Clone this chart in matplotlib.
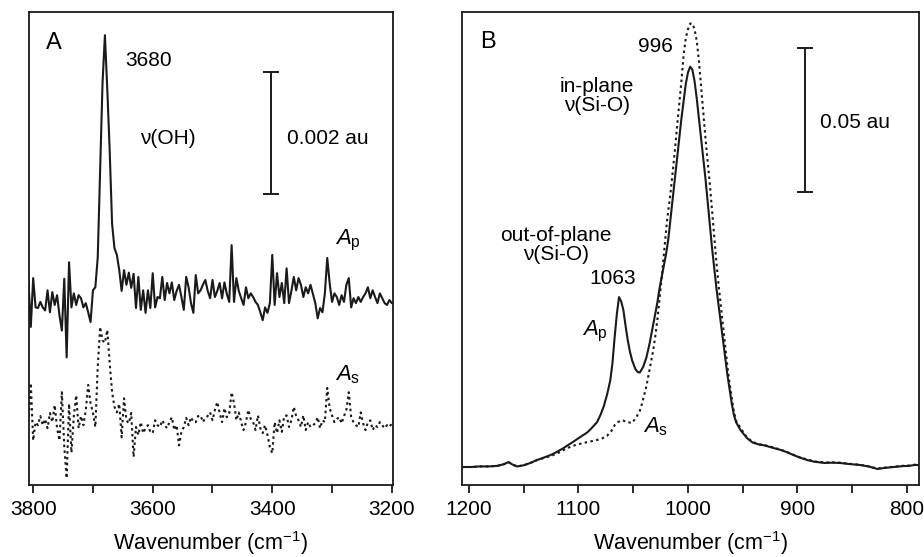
import numpy as np
import matplotlib
matplotlib.use('Agg')
import matplotlib.pyplot as plt

plt.rcParams['font.family'] = 'Liberation Sans'
plt.rcParams['mathtext.fontset'] = 'custom'
plt.rcParams['mathtext.rm'] = 'Liberation Sans'
plt.rcParams['mathtext.it'] = 'Liberation Sans:italic'
plt.rcParams['font.size'] = 15

# ---- Panel A: nu(OH) region, absorbance in 10^-3 au, 4 cm-1 steps from 3808 down to 3196
wn_a = np.arange(3808, 3195, -4)
ap_a = [0.38, -0.39, 0.41, -0.07, -0.08, 0.02, -0.07, -0.12,   # 3808
        0.21, -0.15, 0.18, -0.03, 0.13, -0.2, -0.45, 0.4,      # 3776
        -0.89, 0.67, -0.07, 0.16, -0.03, 0.13, 0.08, -0.07,    # 3744
        0.0, -0.15, -0.31, 0.21, 0.26, 0.75, 2.2, 3.6,         # 3712
        4.39, 3.5, 2.5, 1.3, 0.9, 0.79, 0.54, 0.2,             # 3680
        0.54, 0.3, 0.5, 0.25, 0.48, -0.08, 0.43, -0.11,        # 3648
        0.21, -0.16, 0.21, -0.08, 0.49, -0.07, 0.1, 0.08,      # 3616
        0.43, 0.05, 0.33, 0.16, 0.34, 0.05, 0.2, 0.3,          # 3584
        0.1, -0.11, 0.43, 0.26, 0.0, -0.16, 0.46, 0.16,        # 3552
        0.21, 0.3, 0.38, 0.2, 0.08, 0.38, 0.1, 0.2,            # 3520
        0.33, 0.08, 0.34, 0.15, 0.02, 0.95, 0.02, 0.41,        # 3488
        0.2, 0.08, -0.03, 0.26, 0.08, 0.16, 0.1, 0.02,         # 3456
        -0.03, -0.15, -0.28, -0.07, -0.16, 0.0, 0.79, -0.03,   # 3424
        0.49, 0.1, 0.33, 0.0, 0.57, 0.0, 0.2, 0.43,            # 3392
        0.21, 0.41, 0.3, 0.1, 0.26, 0.16, 0.3, 0.15,           # 3360
        0.0, -0.25, -0.08, -0.15, 0.16, 0.74, 0.33, 0.02,      # 3328
        0.16, 0.1, -0.03, 0.13, 0.02, 0.3, 0.41, -0.07,        # 3296
        0.08, 0.0, 0.1, 0.02, 0.1, 0.16, 0.26, 0.08,           # 3264
        0.21, 0.1, 0.0, 0.16, 0.08, 0.0, -0.03, 0.05,          # 3232
        0.0, 0.0]                                              # 3200
as_a = [0.0, 0.64, -0.3, 0.0, -0.05, 0.1, -0.05, 0.05,         # 3808
        -0.1, 0.15, 0.0, 0.28, -0.1, -0.3, 0.49, -0.4,         # 3776
        -0.92, 0.3, -0.5, 0.1, 0.44, -0.1, 0.1, -0.05,         # 3744
        0.2, 0.61, 0.31, 0.15, -0.08, 0.9, 1.56, 1.34,         # 3712
        1.3, 1.51, 0.97, 0.49, 0.25, 0.16, 0.3, -0.25,         # 3680
        0.39, 0.03, -0.02, 0.15, -0.57, -0.08, -0.21, 0.0,     # 3648
        -0.18, -0.1, -0.05, -0.16, -0.18, 0.03, -0.05, -0.08,  # 3616
        0.03, -0.05, -0.1, 0.0, 0.08, -0.13, -0.05, -0.38,     # 3584
        -0.16, -0.08, 0.07, -0.05, 0.08, 0.0, 0.0, 0.1,        # 3552
        0.11, 0.0, 0.07, 0.1, 0.16, 0.03, 0.2, 0.33,           # 3520
        0.15, 0.0, 0.23, 0.08, 0.15, 0.49, 0.31, 0.03,         # 3488
        0.16, 0.0, -0.13, 0.0, 0.2, 0.05, 0.0, -0.13,          # 3456
        0.11, -0.1, -0.18, -0.05, -0.21, -0.41, -0.51, 0.0,    # 3424
        -0.18, 0.03, -0.16, 0.1, 0.11, -0.08, 0.03, 0.25,      # 3392
        0.1, 0.03, -0.08, 0.11, -0.13, 0.0, -0.08, -0.05,      # 3360
        -0.02, 0.08, -0.1, 0.03, 0.0, 0.56, 0.23, 0.11,        # 3328
        0.0, 0.05, 0.08, -0.02, 0.1, 0.2, 0.49, 0.08,          # 3296
        0.0, -0.05, -0.08, 0.16, -0.02, -0.13, 0.0, 0.03,      # 3264
        -0.13, -0.05, -0.08, 0.0, -0.05, -0.1, -0.05, -0.08,   # 3232
        -0.02, -0.05]                                          # 3200
as_a_offset = -1.95

# ---- Panel B: nu(Si-O) region, absorbance in au
wn_bp = [1206, 1198, 1190, 1182, 1174, 1168, 1164, 1160, 1156, 1150, 1144, 1138,
         1130, 1124, 1120, 1114, 1110, 1105, 1100, 1096, 1092, 1088, 1083, 1080,
         1077, 1074, 1071, 1069, 1067, 1065, 1063, 1061, 1059, 1057, 1055, 1053,
         1051, 1048, 1046, 1044, 1041, 1038, 1035, 1032, 1030, 1028, 1026, 1024,
         1022, 1020, 1018, 1016, 1014, 1012, 1010, 1008, 1006, 1004, 1002, 1000,
         998, 996, 994, 992, 990, 988, 986, 984, 982, 980, 978, 976,
         974, 972, 970, 968, 966, 964, 962, 960, 958, 956, 952, 946,
         941, 935, 930, 922, 916, 910, 904, 898, 891, 884, 875, 868,
         861, 852, 843, 835, 827, 820, 812, 804, 798, 793, 789]
ap_b = [0.0, 0.0, 0.0002, 0.0002, 0.0004, 0.0010, 0.0017, 0.0008, 0.0002, 0.0006, 0.0014, 0.0024,
        0.0035, 0.0044, 0.0052, 0.0065, 0.0075, 0.0087, 0.0100, 0.0110, 0.0120, 0.0135, 0.0156, 0.018,
        0.021, 0.025, 0.030, 0.036, 0.045, 0.053, 0.059, 0.0575, 0.0545, 0.049, 0.044, 0.040,
        0.037, 0.034, 0.033, 0.0328, 0.0347, 0.038, 0.043, 0.049, 0.053, 0.057, 0.062, 0.066,
        0.070, 0.074, 0.079, 0.086, 0.093, 0.100, 0.107, 0.114, 0.121, 0.127, 0.133, 0.137,
        0.139, 0.138, 0.134, 0.128, 0.121, 0.114, 0.107, 0.100, 0.092, 0.084, 0.076, 0.069,
        0.062, 0.056, 0.050, 0.044, 0.038, 0.032, 0.027, 0.022, 0.018, 0.0155, 0.0128, 0.0100,
        0.0085, 0.0078, 0.0075, 0.0066, 0.0060, 0.0052, 0.0042, 0.0033, 0.0024, 0.0018, 0.0014, 0.0015,
        0.0014, 0.0010, 0.0007, 0.0002, -0.0007, -0.0003, 0.0, 0.0003, 0.0004, 0.0007, 0.0007]

wn_bs = [1206, 1198, 1190, 1182, 1174, 1168, 1164, 1160, 1156, 1150, 1144, 1138,
         1130, 1124, 1118, 1110, 1103, 1096, 1090, 1083, 1078, 1074, 1070, 1067,
         1064, 1060, 1056, 1051, 1047, 1044, 1042, 1040, 1038, 1035, 1032, 1030,
         1028, 1025, 1022, 1019, 1016, 1013, 1010, 1008, 1006, 1004, 1002, 1000,
         998, 996, 994, 992, 990, 988, 986, 984, 982, 980, 978, 976,
         974, 972, 970, 968, 966, 964, 962, 960, 958, 956, 952, 946,
         941, 935, 930, 922, 916, 910, 904, 898, 891, 884, 875, 868,
         861, 852, 843, 835, 827, 820, 812, 804, 798, 793, 789]
as_b = [0.0, 0.0, 0.0002, 0.0002, 0.0004, 0.0010, 0.0017, 0.0008, 0.0002, 0.0006, 0.0014, 0.0024,
        0.0033, 0.0040, 0.0050, 0.0066, 0.0076, 0.0083, 0.0088, 0.0094, 0.0100, 0.0108, 0.0125, 0.0145,
        0.0156, 0.0163, 0.0156, 0.0153, 0.0174, 0.0195, 0.022, 0.025, 0.028, 0.034, 0.040, 0.045,
        0.051, 0.062, 0.074, 0.086, 0.095, 0.106, 0.118, 0.126, 0.134, 0.143, 0.149, 0.152,
        0.154, 0.154, 0.152, 0.148, 0.141, 0.132, 0.123, 0.114, 0.106, 0.098, 0.089, 0.080,
        0.071, 0.063, 0.056, 0.049, 0.042, 0.035, 0.029, 0.024, 0.019, 0.016, 0.0135, 0.0102,
        0.0087, 0.0079, 0.0076, 0.0068, 0.0061, 0.0053, 0.0043, 0.0034, 0.0026, 0.0019, 0.0016, 0.0016,
        0.0015, 0.0011, 0.0008, 0.0002, -0.0005, -0.0002, 0.0001, 0.0004, 0.0005, 0.0008, 0.0008]

dotted = (0, (1.2, 1.6))
lw = 1.5
ink = '#1a1a1a'

fig = plt.figure(figsize=(9.24, 5.57), dpi=100)
axA = fig.add_axes([29 / 924, 72 / 557, 364 / 924, 473 / 557])
axB = fig.add_axes([462 / 924, 72 / 557, 457 / 924, 473 / 557])

# Panel A
axA.plot(wn_a, ap_a, color=ink, lw=lw)
axA.plot(wn_a, np.array(as_a) + as_a_offset, color=ink, lw=lw, linestyle=dotted)
axA.set_xlim(3807, 3198)
axA.set_ylim(-2.98, 4.77)
axA.set_xticks([3800, 3600, 3400, 3200])
axA.set_xticks([3700, 3500, 3300], minor=True)
axA.errorbar(3402, 2.79, yerr=1.0, color=ink, lw=1.4, capsize=5.5, capthick=1.4)
axA.text(3376, 2.69, '0.002 au', va='center', ha='left')
axA.text(3778, 4.26, 'A', va='center', ha='left', fontsize=17)
axA.text(3646, 3.98, '3680', va='center', ha='left')
axA.text(3621, 2.7, 'ν(OH)', va='center', ha='left')
axA.text(3295, 1.03, r'$\mathit{A}_\mathrm{p}$', va='center', ha='left', fontsize=16)
axA.text(3295, -1.18, r'$\mathit{A}_\mathrm{s}$', va='center', ha='left', fontsize=16)

# Panel B
axB.plot(wn_bp, ap_b, color=ink, lw=lw)
axB.plot(wn_bs, as_b, color=ink, lw=lw, linestyle=dotted)
axB.set_xlim(1206.4, 789)
axB.set_ylim(-0.00625, 0.158)
axB.set_xticks([1200, 1100, 1000, 900, 800])
axB.set_xticks([1150, 1050, 950, 850], minor=True)
axB.errorbar(893, 0.1205, yerr=0.025, color=ink, lw=1.4, capsize=5.5, capthick=1.4)
axB.text(879.5, 0.1198, '0.05 au', va='center', ha='left')
axB.text(1190, 0.1476, 'B', va='center', ha='left', fontsize=17)
axB.text(1045.7, 0.146, '996', va='center', ha='left')
axB.text(1083, 0.129, 'in-plane\nν(Si-O)', va='center', ha='center', linespacing=1.0)
axB.text(1120.5, 0.077, 'out-of-plane\nν(Si-O)', va='center', ha='center', linespacing=1.0)
axB.text(1068.5, 0.0656, '1063', va='center', ha='center')
axB.text(1097, 0.047, r'$\mathit{A}_\mathrm{p}$', va='center', ha='left', fontsize=16)
axB.text(1041, 0.0139, r'$\mathit{A}_\mathrm{s}$', va='center', ha='left', fontsize=16)

for ax in (axA, axB):
    ax.set_yticks([])
    for s in ax.spines.values():
        s.set_linewidth(1.3)
        s.set_color(ink)
    ax.tick_params(axis='x', which='both', direction='out', length=5.5, width=1.3,
                   color=ink, pad=5, labelsize=15)
    ax.set_xlabel('Wavenumber (cm$^{-1}$)', fontsize=15.5, labelpad=7.5)

fig.savefig('out.png', dpi=100)
